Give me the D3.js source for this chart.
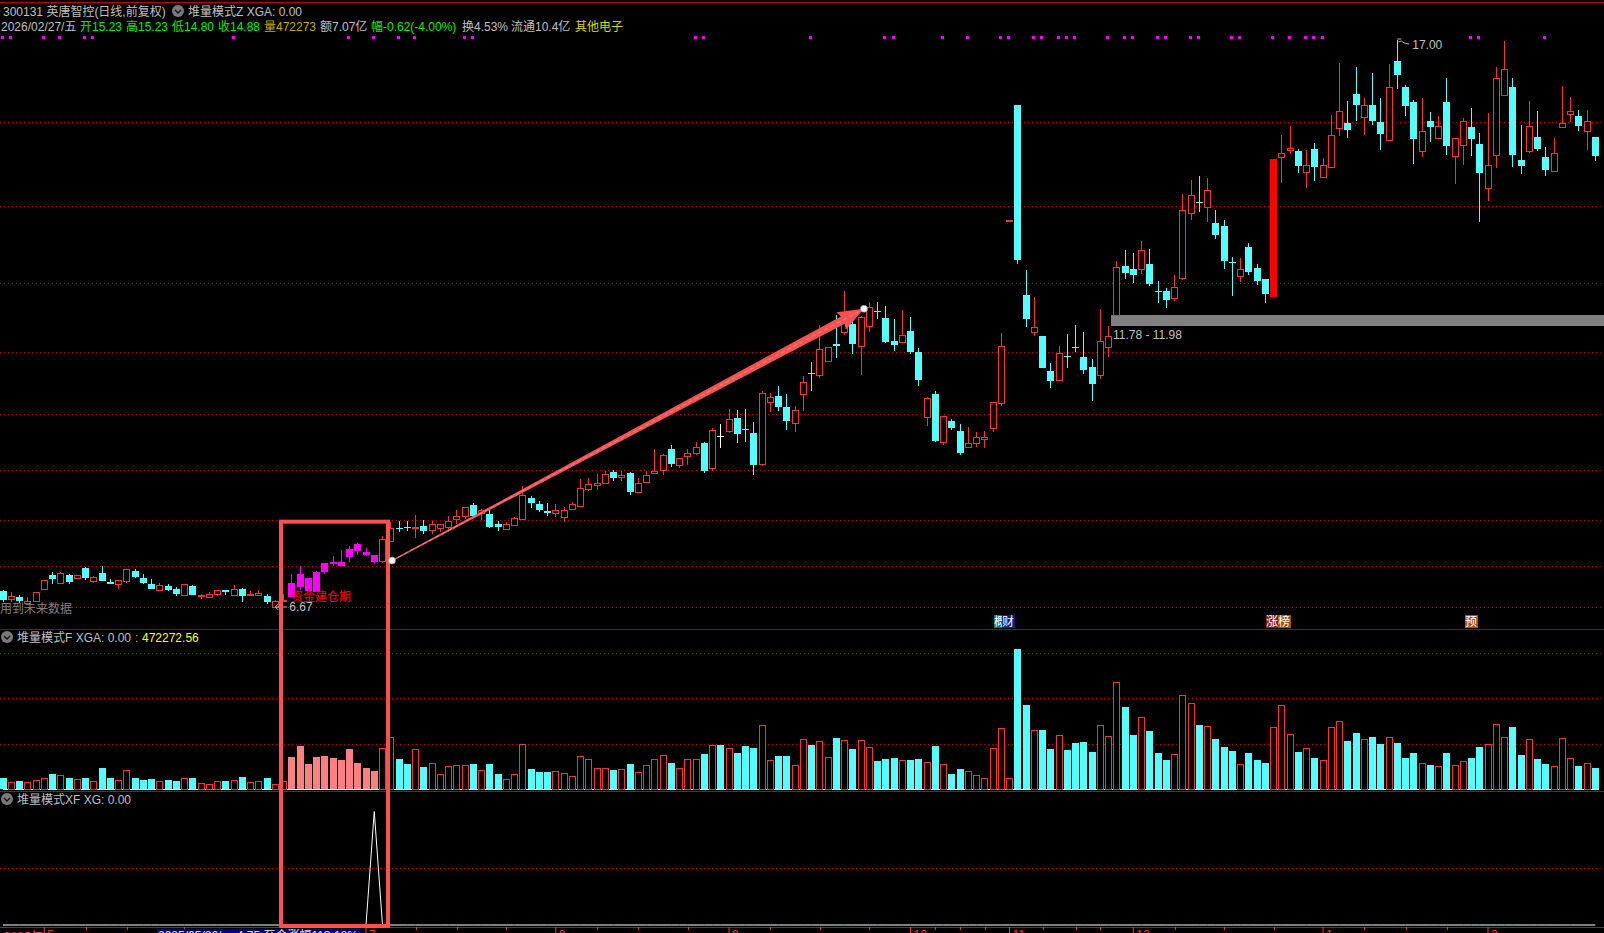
<!DOCTYPE html>
<html>
<head>
<meta charset="utf-8">
<style>
  html, body { margin: 0; padding: 0; background: #000; overflow: hidden; }
  svg { display: block; }
  text { font-family: "Liberation Sans", "Noto Sans CJK SC", sans-serif; font-size: 12px; }
</style>
<script src="https://cdnjs.cloudflare.com/ajax/libs/d3/7.8.5/d3.min.js"></script>
</head>
<body>
<div id="container1"></div>
<script>
// daily bars, oldest first
var opens = [6.96,6.81,6.85,6.73,6.78,7.00,7.25,7.11,7.25,7.20,
  7.37,7.14,7.28,7.12,7.09,7.13,7.32,7.19,7.08,6.98,
  7.05,6.99,6.89,7.05,6.86,6.85,6.91,6.97,6.89,6.99,
  6.90,6.89,6.86,6.67,6.78,6.84,7.27,7.20,6.93,7.30,
  7.45,7.42,7.58,7.81,7.67,7.62,7.50,7.86,8.10,8.12,
  8.11,8.14,8.06,8.11,8.13,8.26,8.33,8.52,8.37,8.36,
  8.18,8.09,8.16,8.27,8.65,8.54,8.41,8.38,8.31,8.46,
  8.51,8.82,8.89,8.93,9.13,9.04,9.11,8.76,8.95,9.11,
  9.16,9.55,9.26,9.41,9.48,9.65,9.19,9.79,9.88,10.11,
  9.91,9.84,9.28,10.41,10.51,10.31,10.02,10.54,10.93,10.90,
  11.14,11.45,11.67,11.82,11.43,11.78,12.06,11.93,11.51,11.50,
  11.70,11.31,10.12,10.55,9.68,10.05,9.87,9.59,9.65,9.72,
  9.93,10.39,13.71,15.82,12.35,11.68,11.60,10.97,10.81,11.24,
  11.40,11.22,11.04,10.90,11.41,11.99,12.88,12.83,12.83,12.92,
  12.42,12.42,12.30,12.67,13.85,14.05,13.96,13.66,13.61,12.95,
  12.69,13.23,12.84,12.64,12.32,14.86,15.00,14.98,14.60,15.01,
  14.51,14.69,15.40,15.49,16.02,15.60,15.82,15.51,15.17,16.62,
  16.14,15.87,14.98,15.52,15.22,15.87,14.89,15.09,15.41,15.10,
  14.31,14.91,16.00,16.14,14.81,14.98,15.23,14.87,14.62,15.42,
  15.66,15.62,15.35,15.23];
var highs = [6.97,6.94,6.88,6.84,6.94,7.16,7.30,7.30,7.27,7.25,
  7.39,7.23,7.41,7.17,7.16,7.36,7.35,7.27,7.17,7.10,
  7.08,7.02,7.08,7.06,6.90,6.94,6.97,6.97,7.07,7.01,
  6.96,6.97,6.90,6.79,6.90,7.27,7.42,7.20,7.32,7.47,
  7.59,7.70,7.78,7.83,7.74,7.62,7.95,8.22,8.23,8.23,
  8.34,8.25,8.24,8.18,8.32,8.43,8.48,8.56,8.45,8.43,
  8.23,8.21,8.30,8.87,8.69,8.60,8.56,8.54,8.48,8.58,
  9.00,9.02,9.09,9.14,9.16,9.14,9.12,9.02,9.14,9.55,
  9.45,9.62,9.38,9.55,9.67,9.67,9.92,10.00,10.27,10.26,
  10.27,10.04,10.60,10.57,10.69,10.55,10.33,10.88,11.13,11.81,
  11.41,11.99,12.43,11.90,11.96,12.23,12.23,12.15,11.91,12.08,
  11.95,11.39,10.50,10.60,10.14,10.09,10.00,9.95,9.85,9.87,
  10.40,11.66,13.71,15.82,12.81,12.32,11.60,11.11,11.42,11.64,
  11.80,11.68,11.19,12.10,11.79,12.97,13.17,13.12,13.34,13.19,
  12.61,12.48,12.72,14.19,14.45,14.52,14.49,13.90,13.72,13.04,
  13.03,13.30,12.92,12.64,14.83,15.27,15.43,15.01,15.00,15.12,
  14.85,15.63,16.58,15.89,16.51,15.94,16.40,15.94,16.56,17.00,
  16.18,15.91,15.94,15.69,15.62,16.31,15.21,15.58,15.76,15.30,
  15.67,16.51,16.98,16.31,15.45,15.89,15.71,15.05,15.22,16.16,
  15.96,15.73,15.73,15.23];
var lows = [6.76,6.76,6.73,6.70,6.78,6.98,7.08,7.10,7.08,7.20,
  7.16,7.11,7.13,7.08,6.99,7.10,7.20,7.08,6.99,6.96,
  6.96,6.87,6.89,6.88,6.81,6.85,6.86,6.88,6.88,6.76,
  6.86,6.86,6.72,6.67,6.76,6.84,6.97,6.96,6.93,7.27,
  7.41,7.42,7.49,7.61,7.59,7.45,7.47,7.86,8.03,8.05,
  7.93,8.00,8.00,8.04,8.09,8.18,8.27,8.31,8.25,8.10,
  8.05,8.09,8.15,8.27,8.47,8.40,8.33,8.30,8.21,8.46,
  8.49,8.78,8.80,8.93,8.96,8.96,8.71,8.74,8.93,9.10,
  9.07,9.22,9.20,9.25,9.44,9.11,9.14,9.56,9.84,9.65,
  9.67,9.07,9.24,10.22,10.24,9.89,9.86,10.24,10.60,10.84,
  11.14,11.20,11.62,11.28,10.89,11.68,11.92,11.48,11.34,11.50,
  11.28,10.69,9.97,9.67,9.62,9.89,9.43,9.58,9.58,9.56,
  9.85,10.33,13.71,12.92,11.77,11.60,11.02,10.66,10.81,11.02,
  11.31,10.91,10.42,10.82,11.22,11.99,12.64,12.57,12.73,12.52,
  12.21,12.12,12.24,12.63,13.72,13.87,13.68,13.37,12.83,12.33,
  12.59,12.72,12.53,12.21,12.32,14.39,14.92,14.58,14.30,14.43,
  14.51,14.67,15.25,15.21,15.52,15.27,15.45,15.00,15.17,16.11,
  15.62,14.74,14.87,15.14,15.20,14.90,14.38,14.72,14.89,13.68,
  14.07,14.67,16.00,14.69,14.56,14.94,14.98,14.52,14.62,15.40,
  15.51,15.34,15.00,14.80];
var closes = [6.79,6.86,6.77,6.77,6.94,7.16,7.17,7.28,7.12,7.24,
  7.19,7.21,7.14,7.08,7.15,7.35,7.21,7.10,6.99,7.06,
  6.97,6.90,7.08,6.88,6.88,6.90,6.97,6.93,7.00,6.86,
  6.91,6.92,6.76,6.78,6.80,7.11,7.03,6.96,7.30,7.46,
  7.48,7.48,7.73,7.69,7.62,7.48,7.90,8.10,8.08,8.11,
  8.13,8.05,8.18,8.17,8.23,8.33,8.48,8.33,8.43,8.12,
  8.12,8.17,8.28,8.70,8.56,8.43,8.38,8.43,8.44,8.54,
  8.83,8.90,8.92,9.08,9.02,9.07,8.76,8.92,9.07,9.14,
  9.43,9.27,9.38,9.48,9.58,9.14,9.89,9.79,10.10,9.82,
  9.89,9.25,10.56,10.49,10.31,10.06,10.25,10.76,10.91,11.36,
  11.40,11.42,12.01,11.46,11.95,12.13,12.04,11.50,11.44,11.62,
  11.31,10.80,10.47,9.69,10.14,9.93,9.47,9.65,9.76,9.76,
  10.40,11.43,13.71,12.99,11.91,11.76,11.02,10.78,11.29,11.22,
  11.39,10.98,10.73,11.51,11.60,12.86,12.75,12.72,13.18,12.55,
  12.41,12.26,12.49,13.90,14.17,14.03,14.26,13.45,12.97,12.93,
  12.82,12.77,12.61,12.37,14.83,14.94,15.03,14.70,14.72,14.69,
  14.73,15.26,15.70,15.36,15.82,15.81,15.52,15.29,16.14,16.36,
  15.80,15.20,15.35,15.41,15.43,15.07,15.21,15.52,15.20,14.58,
  14.72,16.30,16.48,14.90,14.70,15.43,15.01,14.63,14.94,15.48,
  15.70,15.43,15.52,14.88];
// volume, thousand lots
var volumes = [235,162,169,162,206,250,324,316,235,228,
  235,184,456,235,206,427,235,191,213,184,
  191,169,250,235,140,118,184,169,206,258,
  162,184,235,118,184,699,942,545,699,721,
  677,633,876,567,456,390,913,1156,655,545,
  891,478,581,324,515,537,537,545,427,545,
  324,228,324,1001,434,368,368,405,361,294,
  736,670,471,471,412,449,545,383,537,670,
  758,567,471,670,670,765,979,964,913,788,
  942,898,1420,648,721,721,537,1111,964,1067,
  714,1119,1089,876,1089,935,611,655,677,648,
  633,655,604,942,559,324,434,405,316,250,
  913,1354,250,3084,1847,1310,1295,876,1200,854,
  1008,1030,810,1420,1178,2370,1803,1185,1597,1273,
  788,633,780,2083,1906,1406,1398,1097,920,832,
  559,788,633,567,1376,1862,1222,810,913,677,
  648,1376,1509,1052,1229,1111,1141,986,1156,1008,
  677,788,581,523,515,788,537,626,677,920,
  1001,1443,1156,1362,743,1111,655,545,515,1133,
  692,500,581,472];
var xgValues = [0,0,0,0,0,0,0,0,0,0,0,0,0,0,0,0,0,0,0,0,
  0,0,0,0,0,0,0,0,0,0,0,0,0,0,0,0,0,0,0,0,
  0,0,0,0,0,1,0,0,0,0,0,0,0,0,0,0,0,0,0,0,
  0,0,0,0,0,0,0,0,0,0,0,0,0,0,0,0,0,0,0,0,
  0,0,0,0,0,0,0,0,0,0,0,0,0,0,0,0,0,0,0,0,
  0,0,0,0,0,0,0,0,0,0,0,0,0,0,0,0,0,0,0,0,
  0,0,0,0,0,0,0,0,0,0,0,0,0,0,0,0,0,0,0,0,
  0,0,0,0,0,0,0,0,0,0,0,0,0,0,0,0,0,0,0,0,
  0,0,0,0,0,0,0,0,0,0,0,0,0,0,0,0,0,0,0,0,
  0,0,0,0,0,0,0,0,0,0,0,0,0,0];

var buildUpBars = [35,36,37,38,39,40,41,42,43,44,45];  // magenta candles, pink volume
var limitUpBars = [154];
var signalBars = [0,1,5,7,10,11,28,42,45,48,50,56,57,84,85,98,107,108,114,117,121,122,
  125,126,128,129,130,134,136,137,140,141,144,145,149,150,154,156,158,159,160,178,179,187];
var priceGrid = [6.67,7.42,8.25,9.17,10.18,11.31,12.57,13.97,15.51];
var volumeGrid = [1000,2000,3000];
var xgGrid = [0.5];
var monthBars = [5,22,44,67,88,110,122,137,160,180];
var monthLabels = ["5","6","7","8","9","10","11","12","1","2"];
var weekBars = [10,15,50,55,61,72,77,83,93,99,105,113,116,119,126,130,133,142,148,154,165,170,175];

var width = 1604, height = 933;
var red = "#ff3232", cyan = "#54ffff", magenta = "#ff00ff", pink = "#ff8080",
    gridRed = "#c00000", textGray = "#c0c0c0", salmon = "#ff5050";

var svg = d3.select("#container1")
  .append("svg")
    .attr("width", width)
    .attr("height", height);

var x = d3.scaleBand()
    .domain(d3.range(opens.length))
    .range([-1.125, 1599.375]);
function cx(i) { return x(i) + x.bandwidth() / 2; }
function left(i) { return Math.round(cx(i) - 3.5); }

var yPrice = d3.scaleLinear().domain([6.67, 17.00]).range([606.7, 40]);
var yVol = d3.scaleLinear().domain([0, 3000]).range([789, 653]);
var yXg = d3.scaleLinear().domain([0, 1]).range([925, 811.5]);

function hGrid(values, scale) {
  svg.append("g")
    .selectAll("line")
    .data(values)
    .enter()
    .append("line")
      .attr("x1", 0)
      .attr("x2", width)
      .attr("y1", function(d) { return Math.round(scale(d)) + 0.5; })
      .attr("y2", function(d) { return Math.round(scale(d)) + 0.5; })
      .attr("stroke", gridRed)
      .attr("stroke-dasharray", "1 3")
      .attr("shape-rendering", "crispEdges");
}
hGrid(priceGrid, yPrice);
hGrid(volumeGrid, yVol);
hGrid(xgGrid, yXg);

// pane dividers
[[2, "#c00000"], [629, "#a80000"], [791, "#c00000"], [927, "#e00000"]].forEach(function(r) {
  svg.append("line")
    .attr("x1", 0).attr("x2", width)
    .attr("y1", r[0] + 0.5).attr("y2", r[0] + 0.5)
    .attr("stroke", r[1])
    .attr("shape-rendering", "crispEdges");
});

// band
svg.append("rect")
  .attr("x", left(135) - 2)
  .attr("y", yPrice(11.98))
  .attr("width", width)
  .attr("height", yPrice(11.78) - yPrice(11.98))
  .attr("fill", "#808080")
  .attr("shape-rendering", "crispEdges");

function isUp(i) {
  return closes[i] > opens[i] || (closes[i] === opens[i] && highs[i] === lows[i]);
}
function candleColor(i) {
  if (buildUpBars.indexOf(i) >= 0) return magenta;
  if (closes[i] === opens[i] && highs[i] !== lows[i]) return "#ffffff";
  if (limitUpBars.indexOf(i) >= 0) return "#ff0000";
  return isUp(i) ? red : cyan;
}
function isHollow(i) {
  return isUp(i) && buildUpBars.indexOf(i) < 0 && limitUpBars.indexOf(i) < 0;
}

var bars = d3.range(opens.length);
var candles = svg.append("g").attr("shape-rendering", "crispEdges");

candles.selectAll("line")
  .data(bars)
  .enter()
  .append("line")
    .attr("x1", function(i) { return left(i) + 3.5; })
    .attr("x2", function(i) { return left(i) + 3.5; })
    .attr("y1", function(i) { return Math.round(yPrice(highs[i])); })
    .attr("y2", function(i) { return Math.round(yPrice(lows[i])); })
    .attr("stroke", candleColor);

candles.selectAll("rect")
  .data(bars)
  .enter()
  .append("rect")
    .attr("x", function(i) { return isHollow(i) ? left(i) + 0.5 : left(i); })
    .attr("y", function(i) {
      var top = Math.round(yPrice(Math.max(opens[i], closes[i])));
      return isHollow(i) ? top + 0.5 : top;
    })
    .attr("width", function(i) { return isHollow(i) ? 6 : 7; })
    .attr("height", function(i) {
      var h = Math.round(yPrice(Math.min(opens[i], closes[i]))) - Math.round(yPrice(Math.max(opens[i], closes[i])));
      return Math.max(h, 1);
    })
    .attr("fill", function(i) { return isHollow(i) ? "#000" : candleColor(i); })
    .attr("stroke", function(i) { return isHollow(i) ? red : "none"; });

// volume
svg.append("line")
  .attr("x1", cx(0)).attr("x2", width - 5)
  .attr("y1", yVol(0) + 0.5).attr("y2", yVol(0) + 0.5)
  .attr("stroke", "#fff")
  .attr("shape-rendering", "crispEdges");

svg.append("g")
    .attr("shape-rendering", "crispEdges")
  .selectAll("rect")
  .data(bars)
  .enter()
  .append("rect")
    .attr("x", function(i) { return isUp(i) && buildUpBars.indexOf(i) < 0 ? left(i) + 0.5 : left(i); })
    .attr("y", function(i) { return Math.round(yVol(volumes[i])) + (isUp(i) && buildUpBars.indexOf(i) < 0 ? 0.5 : 0); })
    .attr("width", function(i) { return isUp(i) && buildUpBars.indexOf(i) < 0 ? 6 : 7; })
    .attr("height", function(i) { return Math.round(yVol(0)) - Math.round(yVol(volumes[i])); })
    .attr("fill", function(i) {
      if (buildUpBars.indexOf(i) >= 0) return pink;
      return isUp(i) ? "#000" : cyan;
    })
    .attr("stroke", function(i) { return isUp(i) && buildUpBars.indexOf(i) < 0 ? red : "none"; });

// XG line
svg.append("path")
  .datum(xgValues)
  .attr("fill", "none")
  .attr("stroke", "#fff")
  .attr("stroke-width", 1)
  .attr("d", d3.line()
    .x(function(d, i) { return cx(i); })
    .y(function(d) { return yXg(d); }));

// signal ticks on top
svg.append("g")
    .attr("shape-rendering", "crispEdges")
  .selectAll("rect")
  .data(signalBars)
  .enter()
  .append("rect")
    .attr("x", function(i) { return Math.round(cx(i) - 2.5); })
    .attr("y", 36)
    .attr("width", 3)
    .attr("height", 3)
    .attr("fill", magenta);

// text helpers
function label(px, py, str, color) {
  return svg.append("text")
    .attr("x", px)
    .attr("y", py)
    .attr("fill", color || textGray)
    .text(str);
}
function dropIcon(px, py) {
  svg.append("circle").attr("cx", px).attr("cy", py).attr("r", 6).attr("fill", "#7a7a7a");
  svg.append("path")
    .attr("d", "M" + (px - 3) + "," + (py - 1) + "L" + px + "," + (py + 2) + "L" + (px + 3) + "," + (py - 1))
    .attr("fill", "none")
    .attr("stroke", "#111")
    .attr("stroke-width", 1.4);
}

// header
label(3, 16, "300131 英唐智控(日线,前复权)");
dropIcon(178, 11);
label(188, 16, "堆量模式Z  XGA: 0.00");
var green = "#00ee00", gold = "#c8a800";
label(1, 31, "2026/02/27/五");
label(80, 31, "开15.23", green);
label(126, 31, "高15.23", green);
label(172, 31, "低14.80", green);
label(218, 31, "收14.88", green);
label(264, 31, "量472273", gold);
label(320, 31, "额7.07亿");
label(371, 31, "幅-0.62(-4.00%)", green);
label(462, 31, "换4.53%");
label(511, 31, "流通10.4亿");
label(575, 31, "其他电子", "#d8d800");

dropIcon(7, 637);
label(17, 642, "堆量模式F  XGA: 0.00");
label(135, 642, ":");
label(142, 642, "472272.56", "#ffff00");
dropIcon(7, 799);
label(17, 804, "堆量模式XF  XG: 0.00");

label(0, 613, "用到未来数据", "#808080");
label(291, 601, "资金建仓期", "#ff0000");

// extreme labels
label(cx(33) + 14, 611, "6.67");
svg.append("path")
  .attr("d", "M" + (cx(33) + 12) + ",607H" + cx(33) + "m3,-3l-3,3l3,3")
  .attr("fill", "none").attr("stroke", "#b0b0b0");
label(cx(169) + 15, yPrice(17.00) + 9, "17.00");
svg.append("path")
  .attr("d", "M" + cx(169) + "," + (yPrice(17.00) - 1) + "h4M" + (cx(169) + 1) + "," + (yPrice(17.00) + 2) + "l3,-1l3,2l5,1")
  .attr("fill", "none").attr("stroke", "#b0b0b0");
label(left(135) - 0, 339, "11.78 - 11.98");

// event tags
function tag(px, str, bg) {
  svg.append("rect")
    .attr("x", px).attr("y", 615).attr("width", 13).attr("height", 13)
    .attr("fill", bg);
  label(px, 626, str, "#fff");
}
tag(994, "概", "#007878");
tag(1002, "财", "#00208a");
tag(1266, "涨", "#8b1a1a");
tag(1278, "榜", "#a05000");
tag(1465, "预", "#b05010");

// time axis
var monthAxis = d3.axisBottom(x)
  .tickValues(monthBars)
  .tickSize(6)
  .tickFormat(function(d, i) { return monthLabels[i]; });
var axisG = svg.append("g")
  .attr("transform", "translate(0,927)")
  .call(monthAxis);
axisG.select(".domain").remove();
axisG.selectAll("line").attr("stroke", red);
axisG.selectAll("text")
  .attr("fill", red)
  .attr("font-family", null)
  .attr("font-size", null)
  .attr("text-anchor", "start")
  .attr("x", 3)
  .attr("y", 2)
  .attr("dy", "9.5");
svg.append("g")
    .attr("transform", "translate(0,927)")
  .selectAll("line")
  .data(weekBars)
  .enter()
  .append("line")
    .attr("x1", function(i) { return cx(i) + 0.5; })
    .attr("x2", function(i) { return cx(i) + 0.5; })
    .attr("y1", 0)
    .attr("y2", 3)
    .attr("stroke", red)
    .attr("shape-rendering", "crispEdges");
label(4, 941, "2025年", red);

svg.append("rect")
  .attr("x", 157).attr("y", 929).attr("width", 204).attr("height", 4)
  .attr("fill", "#000080");
label(158, 940, "2025/05/26/一  4.75 至今涨幅113.18%", "#e0e0e0");

// hand drawn annotations
svg.append("rect")
  .attr("x", cx(34) - 2.5)
  .attr("y", yPrice(8.22))
  .attr("width", cx(46) + 5.5 - (cx(34) - 2.5))
  .attr("height", yXg(0) + 1 - yPrice(8.22))
  .attr("fill", "none")
  .attr("stroke", salmon)
  .attr("stroke-width", 4);

var tail = [cx(47) + 1.25, yPrice(7.51)],
    tip = [cx(104) + 3, yPrice(12.10)];
var dx = tip[0] - tail[0], dy = tip[1] - tail[1], len = Math.sqrt(dx * dx + dy * dy);
var ux = dx / len, uy = dy / len, nx = -uy, ny = ux;
function along(d, n) { return [tail[0] + ux * d + nx * n, tail[1] + uy * d + ny * n]; }
var headLen = 26;
var arrowPts = [
  along(0, -0.6),
  along(len - headLen + 2, -4),
  along(len - headLen, -10),
  tip,
  along(len - headLen, 10),
  along(len - headLen + 2, 4),
  along(0, 0.6)
];
svg.append("path")
  .attr("d", "M" + arrowPts.join("L") + "Z")
  .attr("fill", salmon);
svg.append("line")
  .attr("x1", tail[0]).attr("y1", tail[1])
  .attr("x2", tip[0]).attr("y2", tip[1])
  .attr("stroke", "#b0a0a0")
  .attr("stroke-dasharray", "4 3");
[tail, tip].forEach(function(p) {
  svg.append("circle")
    .attr("cx", p[0]).attr("cy", p[1]).attr("r", 3.5)
    .attr("fill", "#fff")
    .attr("stroke", "#888")
    .attr("stroke-width", 0.6);
});
</script>
</body>
</html>
